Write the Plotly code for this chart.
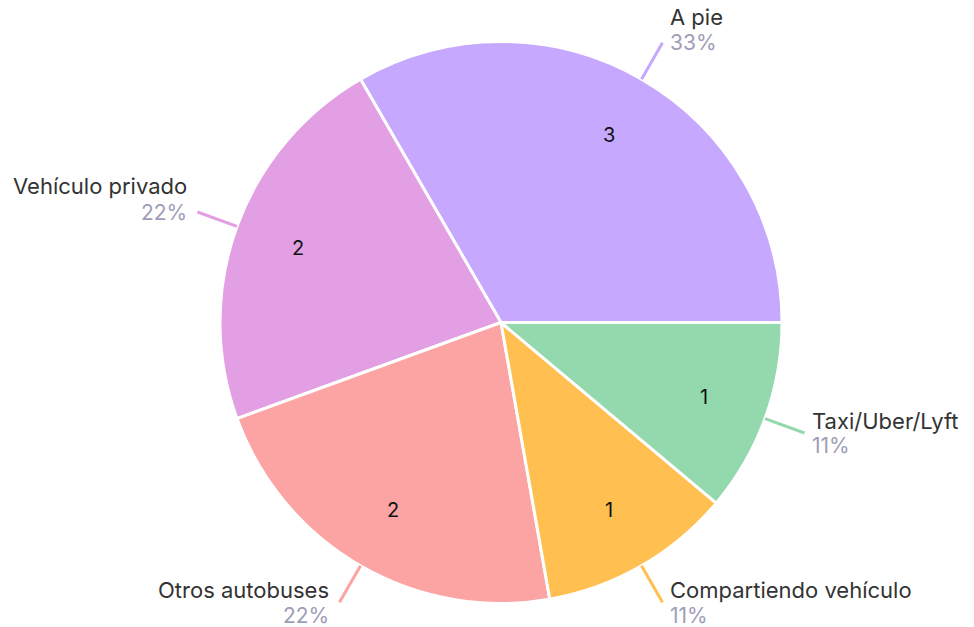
import math
import plotly.graph_objects as go

labels = ["A pie", "Vehículo privado", "Otros autobuses", "Compartiendo vehículo", "Taxi/Uber/Lyft"]
values = [3, 2, 2, 1, 1]
colors = ["#c6a8fe", "#e29fe3", "#fba4a3", "#ffc051", "#94d9ad"]

W, H = 974, 627
cx, cy, r = 501, 322.5, 281
FONT = "Inter"

fig = go.Figure(go.Pie(
    labels=labels, values=values, sort=False, direction="counterclockwise", rotation=-30,
    marker=dict(colors=colors, line=dict(color="white", width=3)),
    textinfo="none", hole=0, showlegend=False, hoverinfo="label+value+percent",
    domain=dict(x=[(cx - r) / W, (cx + r) / W], y=[(H - cy - r) / H, (H - cy + r) / H]),
))

def P(x, y):
    return x / W, 1 - y / H

total = sum(values)
shapes, annotations = [], []
cum = 0
for lab, v, col in zip(labels, values, colors):
    mid = (cum + v / 2) / total * 2 * math.pi
    cum += v
    c, s = math.cos(mid), math.sin(mid)
    # value inside slice
    vx, vy = P(cx + 0.77 * r * c, cy - 0.77 * r * s)
    annotations.append(dict(x=vx, y=vy, xref="paper", yref="paper", text=str(v), showarrow=False,
                            xanchor="center", yanchor="middle",
                            font=dict(family=FONT, size=20, color="#111111")))
    # leader line
    x0, y0 = cx + r * c, cy - r * s
    x1, y1 = cx + (r + 42) * c, cy - (r + 42) * s
    a0, b0 = P(x0, y0)
    a1, b1 = P(x1, y1)
    shapes.append(dict(type="line", xref="paper", yref="paper", x0=a0, y0=b0, x1=a1, y1=b1,
                       line=dict(color=col, width=3)))
    right = c >= 0
    tx = x1 + 6 if right else x1 - 9
    if s > 0:
        ny, py = y1 - 26, y1
    else:
        ny, py = y1 - 12, y1 + 13
    pct = f"{round(v / total * 100)}%"
    xa = "left" if right else "right"
    nx_, ny_ = P(tx, ny)
    px_, py_ = P(tx, py)
    annotations.append(dict(x=nx_, y=ny_, xref="paper", yref="paper", text=lab, showarrow=False,
                            xanchor=xa, yanchor="middle", borderpad=0,
                            font=dict(family=FONT, size=22, color="#333333")))
    annotations.append(dict(x=px_, y=py_, xref="paper", yref="paper", text=pct, showarrow=False,
                            xanchor=xa, yanchor="middle", borderpad=0,
                            font=dict(family=FONT, size=21, color="#9d9db8")))

fig.update_layout(width=W, height=H, margin=dict(l=0, r=0, t=0, b=0),
                  paper_bgcolor="white", plot_bgcolor="white",
                  shapes=shapes, annotations=annotations)
fig.write_html("out.html", config={"displayModeBar": False},
               post_script="document.body.style.margin='0';")
